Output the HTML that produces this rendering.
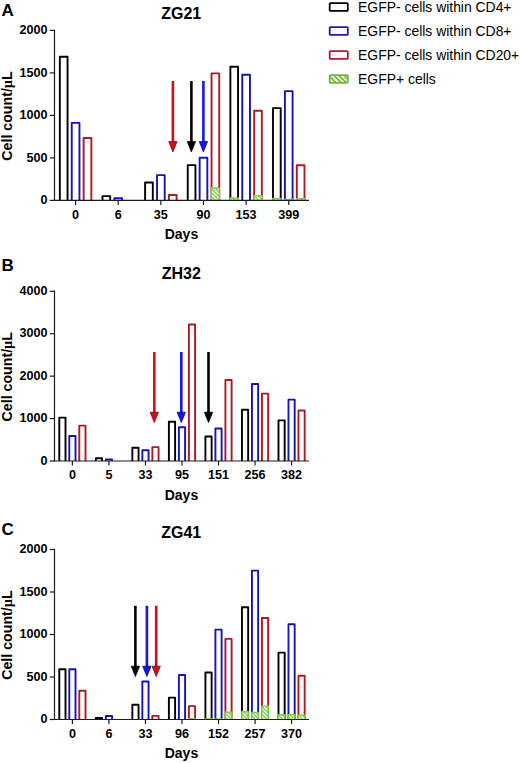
<!DOCTYPE html>
<html><head><meta charset="utf-8"><title>Figure</title>
<style>
html,body{margin:0;padding:0;background:#fff;}
body{width:520px;height:763px;overflow:hidden;}
svg{display:block;}
text{font-family:"Liberation Sans",sans-serif;fill:#000;}
.tk{font-size:12.6px;font-weight:bold;}
.ax{font-size:14px;font-weight:bold;}
.ay{font-size:14.2px;font-weight:bold;}
.mu{font-family:"Liberation Serif",serif;}
.tt{font-size:16px;font-weight:bold;}
.lt{font-size:17px;font-weight:bold;}
.lg{font-size:13.92px;}
</style></head><body>
<svg width="520" height="763" viewBox="0 0 520 763">
<defs>
<pattern id="hatch" patternUnits="userSpaceOnUse" width="3.6" height="3.6" patternTransform="rotate(45)">
<rect width="3.6" height="3.6" fill="#f4fbe8"/>
<rect width="3.6" height="1.7" fill="#78b543"/>
</pattern>
<pattern id="hatchb" patternUnits="userSpaceOnUse" width="2.8" height="2.8" patternTransform="rotate(45)">
<rect width="2.8" height="2.8" fill="#f8fef0"/>
<rect width="2.8" height="1.35" fill="#80cd4c"/>
</pattern>
</defs>
<rect width="520" height="763" fill="#fff"/>
<path d="M59.85 200.4 V56.75 H67.55 V200.4" fill="#fff" stroke="#000000" stroke-width="1.9" stroke-linejoin="round"/>
<path d="M71.75 200.4 V122.88 H79.45 V200.4" fill="#fff" stroke="#1414b8" stroke-width="1.9" stroke-linejoin="round"/>
<path d="M83.65 200.4 V137.93 H91.35 V200.4" fill="#fff" stroke="#ae1a20" stroke-width="1.9" stroke-linejoin="round"/>
<path d="M102.48 200.4 V196.15 H110.18 V200.4" fill="#fff" stroke="#000000" stroke-width="1.9" stroke-linejoin="round"/>
<path d="M114.38 200.4 V198.28 H122.08 V200.4" fill="#fff" stroke="#1414b8" stroke-width="1.9" stroke-linejoin="round"/>
<path d="M145.11 200.4 V182.47 H152.81 V200.4" fill="#fff" stroke="#000000" stroke-width="1.9" stroke-linejoin="round"/>
<path d="M157.01 200.4 V175.16 H164.71 V200.4" fill="#fff" stroke="#1414b8" stroke-width="1.9" stroke-linejoin="round"/>
<path d="M168.91 200.4 V195.05 H176.61 V200.4" fill="#fff" stroke="#ae1a20" stroke-width="1.9" stroke-linejoin="round"/>
<path d="M187.74 200.4 V165.12 H195.44 V200.4" fill="#fff" stroke="#000000" stroke-width="1.9" stroke-linejoin="round"/>
<path d="M199.64 200.4 V157.73 H207.34 V200.4" fill="#fff" stroke="#1414b8" stroke-width="1.9" stroke-linejoin="round"/>
<path d="M211.54 200.4 V73.41 H219.24 V200.4" fill="#fff" stroke="#ae1a20" stroke-width="1.9" stroke-linejoin="round"/>
<path d="M211.39 200.4 V188.08 H219.39 V200.4" fill="url(#hatchb)" stroke="#80cd4c" stroke-width="1.5" stroke-linejoin="round"/>
<path d="M230.37 200.4 V66.78 H238.07 V200.4" fill="#fff" stroke="#000000" stroke-width="1.9" stroke-linejoin="round"/>
<path d="M230.22 200.4 V198.02 H238.22 V200.4" fill="url(#hatchb)" stroke="#80cd4c" stroke-width="1.5" stroke-linejoin="round"/>
<path d="M242.27 200.4 V74.69 H249.97 V200.4" fill="#fff" stroke="#1414b8" stroke-width="1.9" stroke-linejoin="round"/>
<path d="M254.17 200.4 V110.81 H261.87 V200.4" fill="#fff" stroke="#ae1a20" stroke-width="1.9" stroke-linejoin="round"/>
<path d="M254.02 200.4 V195.72 H262.02 V200.4" fill="url(#hatchb)" stroke="#80cd4c" stroke-width="1.5" stroke-linejoin="round"/>
<path d="M273.00 200.4 V108.09 H280.70 V200.4" fill="#fff" stroke="#000000" stroke-width="1.9" stroke-linejoin="round"/>
<path d="M272.85 200.4 V198.53 H280.85 V200.4" fill="url(#hatchb)" stroke="#80cd4c" stroke-width="1.5" stroke-linejoin="round"/>
<path d="M284.90 200.4 V91.09 H292.60 V200.4" fill="#fff" stroke="#1414b8" stroke-width="1.9" stroke-linejoin="round"/>
<path d="M284.75 200.4 V199.38 H292.75 V200.4" fill="url(#hatchb)" stroke="#80cd4c" stroke-width="1.5" stroke-linejoin="round"/>
<path d="M296.80 200.4 V165.30 H304.50 V200.4" fill="#fff" stroke="#ae1a20" stroke-width="1.9" stroke-linejoin="round"/>
<path d="M296.65 200.4 V198.70 H304.65 V200.4" fill="url(#hatchb)" stroke="#80cd4c" stroke-width="1.5" stroke-linejoin="round"/>
<path d="M54.5 29.7 V200.4 M53.8 200.4 H309.0" stroke="#1c1c1c" stroke-width="1.2" fill="none"/>
<path d="M49.7 200.40 H54.5" stroke="#1c1c1c" stroke-width="1.2"/>
<text x="47.6" y="204.10" text-anchor="end" class="tk">0</text>
<path d="M49.7 157.90 H54.5" stroke="#1c1c1c" stroke-width="1.2"/>
<text x="47.6" y="161.60" text-anchor="end" class="tk">500</text>
<path d="M49.7 115.40 H54.5" stroke="#1c1c1c" stroke-width="1.2"/>
<text x="47.6" y="119.10" text-anchor="end" class="tk">1000</text>
<path d="M49.7 72.90 H54.5" stroke="#1c1c1c" stroke-width="1.2"/>
<text x="47.6" y="76.60" text-anchor="end" class="tk">1500</text>
<path d="M49.7 30.40 H54.5" stroke="#1c1c1c" stroke-width="1.2"/>
<text x="47.6" y="34.10" text-anchor="end" class="tk">2000</text>
<path d="M75.60 200.4 V205.0" stroke="#1c1c1c" stroke-width="1.2"/>
<text x="75.60" y="218.50" text-anchor="middle" class="tk">0</text>
<path d="M118.23 200.4 V205.0" stroke="#1c1c1c" stroke-width="1.2"/>
<text x="118.23" y="218.50" text-anchor="middle" class="tk">6</text>
<path d="M160.86 200.4 V205.0" stroke="#1c1c1c" stroke-width="1.2"/>
<text x="160.86" y="218.50" text-anchor="middle" class="tk">35</text>
<path d="M203.49 200.4 V205.0" stroke="#1c1c1c" stroke-width="1.2"/>
<text x="203.49" y="218.50" text-anchor="middle" class="tk">90</text>
<path d="M246.12 200.4 V205.0" stroke="#1c1c1c" stroke-width="1.2"/>
<text x="246.12" y="218.50" text-anchor="middle" class="tk">153</text>
<path d="M288.75 200.4 V205.0" stroke="#1c1c1c" stroke-width="1.2"/>
<text x="288.75" y="218.50" text-anchor="middle" class="tk">399</text>
<path d="M172.9 81 V143" stroke="#d60c14" stroke-width="2.6" fill="none"/>
<path d="M168.70000000000002 141.6 L177.1 141.6 L172.9 152 Z" fill="#d60c14" stroke="#70000c" stroke-width="0.7"/>
<path d="M191.4 81 V143" stroke="#000000" stroke-width="2.6" fill="none"/>
<path d="M187.20000000000002 141.6 L195.6 141.6 L191.4 152 Z" fill="#000000" stroke="#000" stroke-width="0.7"/>
<path d="M203.4 81 V143" stroke="#1616ec" stroke-width="2.6" fill="none"/>
<path d="M199.20000000000002 141.6 L207.6 141.6 L203.4 152 Z" fill="#1616ec" stroke="#00006e" stroke-width="0.7"/>
<text x="181.25" y="18.5" text-anchor="middle" class="tt">ZG21</text>
<text x="181.45" y="239.00" text-anchor="middle" class="ax">Days</text>
<text transform="translate(12.2 116.00) rotate(-90)" text-anchor="middle" class="ay">Cell count/<tspan class="mu">µ</tspan>L</text>
<text x="1.5" y="15.7" class="lt">A</text>
<path d="M59.30 461 V417.60 H65.50 V461" fill="#fff" stroke="#000000" stroke-width="1.9" stroke-linejoin="round"/>
<path d="M69.30 461 V436.05 H75.50 V461" fill="#fff" stroke="#1414b8" stroke-width="1.9" stroke-linejoin="round"/>
<path d="M79.30 461 V425.58 H85.50 V461" fill="#fff" stroke="#ae1a20" stroke-width="1.9" stroke-linejoin="round"/>
<path d="M95.83 461 V458.20 H102.03 V461" fill="#fff" stroke="#000000" stroke-width="1.9" stroke-linejoin="round"/>
<path d="M105.83 461 V459.52 H112.03 V461" fill="#fff" stroke="#1414b8" stroke-width="1.9" stroke-linejoin="round"/>
<path d="M132.36 461 V447.81 H138.56 V461" fill="#fff" stroke="#000000" stroke-width="1.9" stroke-linejoin="round"/>
<path d="M142.36 461 V450.31 H148.56 V461" fill="#fff" stroke="#1414b8" stroke-width="1.9" stroke-linejoin="round"/>
<path d="M152.36 461 V447.13 H158.56 V461" fill="#fff" stroke="#ae1a20" stroke-width="1.9" stroke-linejoin="round"/>
<path d="M168.89 461 V421.76 H175.09 V461" fill="#fff" stroke="#000000" stroke-width="1.9" stroke-linejoin="round"/>
<path d="M178.89 461 V427.27 H185.09 V461" fill="#fff" stroke="#1414b8" stroke-width="1.9" stroke-linejoin="round"/>
<path d="M188.89 461 V324.56 H195.09 V461" fill="#fff" stroke="#ae1a20" stroke-width="1.9" stroke-linejoin="round"/>
<path d="M205.42 461 V436.52 H211.62 V461" fill="#fff" stroke="#000000" stroke-width="1.9" stroke-linejoin="round"/>
<path d="M215.42 461 V428.46 H221.62 V461" fill="#fff" stroke="#1414b8" stroke-width="1.9" stroke-linejoin="round"/>
<path d="M225.42 461 V380.05 H231.62 V461" fill="#fff" stroke="#ae1a20" stroke-width="1.9" stroke-linejoin="round"/>
<path d="M241.95 461 V409.79 H248.15 V461" fill="#fff" stroke="#000000" stroke-width="1.9" stroke-linejoin="round"/>
<path d="M251.95 461 V384.00 H258.15 V461" fill="#fff" stroke="#1414b8" stroke-width="1.9" stroke-linejoin="round"/>
<path d="M261.95 461 V393.67 H268.15 V461" fill="#fff" stroke="#ae1a20" stroke-width="1.9" stroke-linejoin="round"/>
<path d="M278.48 461 V420.40 H284.68 V461" fill="#fff" stroke="#000000" stroke-width="1.9" stroke-linejoin="round"/>
<path d="M288.48 461 V399.65 H294.68 V461" fill="#fff" stroke="#1414b8" stroke-width="1.9" stroke-linejoin="round"/>
<path d="M298.48 461 V410.47 H304.68 V461" fill="#fff" stroke="#ae1a20" stroke-width="1.9" stroke-linejoin="round"/>
<path d="M54.5 290.6 V461 M53.8 461 H309.0" stroke="#1c1c1c" stroke-width="1.2" fill="none"/>
<path d="M49.7 461.00 H54.5" stroke="#1c1c1c" stroke-width="1.2"/>
<text x="47.6" y="464.70" text-anchor="end" class="tk">0</text>
<path d="M49.7 418.57 H54.5" stroke="#1c1c1c" stroke-width="1.2"/>
<text x="47.6" y="422.27" text-anchor="end" class="tk">1000</text>
<path d="M49.7 376.15 H54.5" stroke="#1c1c1c" stroke-width="1.2"/>
<text x="47.6" y="379.85" text-anchor="end" class="tk">2000</text>
<path d="M49.7 333.73 H54.5" stroke="#1c1c1c" stroke-width="1.2"/>
<text x="47.6" y="337.43" text-anchor="end" class="tk">3000</text>
<path d="M49.7 291.30 H54.5" stroke="#1c1c1c" stroke-width="1.2"/>
<text x="47.6" y="295.00" text-anchor="end" class="tk">4000</text>
<path d="M72.40 461 V465.6" stroke="#1c1c1c" stroke-width="1.2"/>
<text x="72.40" y="479.10" text-anchor="middle" class="tk">0</text>
<path d="M108.93 461 V465.6" stroke="#1c1c1c" stroke-width="1.2"/>
<text x="108.93" y="479.10" text-anchor="middle" class="tk">5</text>
<path d="M145.46 461 V465.6" stroke="#1c1c1c" stroke-width="1.2"/>
<text x="145.46" y="479.10" text-anchor="middle" class="tk">33</text>
<path d="M181.99 461 V465.6" stroke="#1c1c1c" stroke-width="1.2"/>
<text x="181.99" y="479.10" text-anchor="middle" class="tk">95</text>
<path d="M218.52 461 V465.6" stroke="#1c1c1c" stroke-width="1.2"/>
<text x="218.52" y="479.10" text-anchor="middle" class="tk">151</text>
<path d="M255.05 461 V465.6" stroke="#1c1c1c" stroke-width="1.2"/>
<text x="255.05" y="479.10" text-anchor="middle" class="tk">256</text>
<path d="M291.58 461 V465.6" stroke="#1c1c1c" stroke-width="1.2"/>
<text x="291.58" y="479.10" text-anchor="middle" class="tk">382</text>
<path d="M154.3 352 V413.6" stroke="#d60c14" stroke-width="2.6" fill="none"/>
<path d="M150.10000000000002 412.20000000000005 L158.5 412.20000000000005 L154.3 422.6 Z" fill="#d60c14" stroke="#70000c" stroke-width="0.7"/>
<path d="M181.3 352 V413.6" stroke="#1616ec" stroke-width="2.6" fill="none"/>
<path d="M177.10000000000002 412.20000000000005 L185.5 412.20000000000005 L181.3 422.6 Z" fill="#1616ec" stroke="#00006e" stroke-width="0.7"/>
<path d="M208.5 352 V413.6" stroke="#000000" stroke-width="2.6" fill="none"/>
<path d="M204.3 412.20000000000005 L212.7 412.20000000000005 L208.5 422.6 Z" fill="#000000" stroke="#000" stroke-width="0.7"/>
<text x="181.25" y="279.4" text-anchor="middle" class="tt">ZH32</text>
<text x="181.45" y="499.60" text-anchor="middle" class="ax">Days</text>
<text transform="translate(12.2 376.75) rotate(-90)" text-anchor="middle" class="ay">Cell count/<tspan class="mu">µ</tspan>L</text>
<text x="1.5" y="270.9" class="lt">B</text>
<path d="M59.30 719.5 V669.26 H65.50 V719.5" fill="#fff" stroke="#000000" stroke-width="1.9" stroke-linejoin="round"/>
<path d="M69.30 719.5 V669.26 H75.50 V719.5" fill="#fff" stroke="#1414b8" stroke-width="1.9" stroke-linejoin="round"/>
<path d="M79.30 719.5 V690.77 H85.50 V719.5" fill="#fff" stroke="#ae1a20" stroke-width="1.9" stroke-linejoin="round"/>
<path d="M95.83 719.5 V717.97 H102.03 V719.5" fill="#fff" stroke="#000000" stroke-width="1.9" stroke-linejoin="round"/>
<path d="M105.83 719.5 V716.01 H112.03 V719.5" fill="#fff" stroke="#1414b8" stroke-width="1.9" stroke-linejoin="round"/>
<path d="M132.36 719.5 V704.79 H138.56 V719.5" fill="#fff" stroke="#000000" stroke-width="1.9" stroke-linejoin="round"/>
<path d="M142.36 719.5 V681.50 H148.56 V719.5" fill="#fff" stroke="#1414b8" stroke-width="1.9" stroke-linejoin="round"/>
<path d="M152.36 719.5 V715.85 H158.56 V719.5" fill="#fff" stroke="#ae1a20" stroke-width="1.9" stroke-linejoin="round"/>
<path d="M168.89 719.5 V697.65 H175.09 V719.5" fill="#fff" stroke="#000000" stroke-width="1.9" stroke-linejoin="round"/>
<path d="M178.89 719.5 V675.04 H185.09 V719.5" fill="#fff" stroke="#1414b8" stroke-width="1.9" stroke-linejoin="round"/>
<path d="M188.89 719.5 V706.15 H195.09 V719.5" fill="#fff" stroke="#ae1a20" stroke-width="1.9" stroke-linejoin="round"/>
<path d="M188.74 719.5 V718.65 H195.24 V719.5" fill="url(#hatchb)" stroke="#80cd4c" stroke-width="1.5" stroke-linejoin="round"/>
<path d="M205.42 719.5 V672.50 H211.62 V719.5" fill="#fff" stroke="#000000" stroke-width="1.9" stroke-linejoin="round"/>
<path d="M205.27 719.5 V718.65 H211.77 V719.5" fill="url(#hatchb)" stroke="#80cd4c" stroke-width="1.5" stroke-linejoin="round"/>
<path d="M215.42 719.5 V629.65 H221.62 V719.5" fill="#fff" stroke="#1414b8" stroke-width="1.9" stroke-linejoin="round"/>
<path d="M215.27 719.5 V718.99 H221.77 V719.5" fill="url(#hatchb)" stroke="#80cd4c" stroke-width="1.5" stroke-linejoin="round"/>
<path d="M225.42 719.5 V638.92 H231.62 V719.5" fill="#fff" stroke="#ae1a20" stroke-width="1.9" stroke-linejoin="round"/>
<path d="M225.27 719.5 V712.27 H231.77 V719.5" fill="url(#hatchb)" stroke="#80cd4c" stroke-width="1.5" stroke-linejoin="round"/>
<path d="M241.95 719.5 V607.30 H248.15 V719.5" fill="#fff" stroke="#000000" stroke-width="1.9" stroke-linejoin="round"/>
<path d="M241.80 719.5 V711.85 H248.30 V719.5" fill="url(#hatchb)" stroke="#80cd4c" stroke-width="1.5" stroke-linejoin="round"/>
<path d="M251.95 719.5 V570.66 H258.15 V719.5" fill="#fff" stroke="#1414b8" stroke-width="1.9" stroke-linejoin="round"/>
<path d="M251.80 719.5 V712.62 H258.30 V719.5" fill="url(#hatchb)" stroke="#80cd4c" stroke-width="1.5" stroke-linejoin="round"/>
<path d="M261.95 719.5 V618.01 H268.15 V719.5" fill="#fff" stroke="#ae1a20" stroke-width="1.9" stroke-linejoin="round"/>
<path d="M261.80 719.5 V706.33 H268.30 V719.5" fill="url(#hatchb)" stroke="#80cd4c" stroke-width="1.5" stroke-linejoin="round"/>
<path d="M278.48 719.5 V652.61 H284.68 V719.5" fill="#fff" stroke="#000000" stroke-width="1.9" stroke-linejoin="round"/>
<path d="M278.33 719.5 V714.83 H284.83 V719.5" fill="url(#hatchb)" stroke="#80cd4c" stroke-width="1.5" stroke-linejoin="round"/>
<path d="M288.48 719.5 V624.22 H294.68 V719.5" fill="#fff" stroke="#1414b8" stroke-width="1.9" stroke-linejoin="round"/>
<path d="M288.33 719.5 V714.83 H294.83 V719.5" fill="url(#hatchb)" stroke="#80cd4c" stroke-width="1.5" stroke-linejoin="round"/>
<path d="M298.48 719.5 V675.73 H304.68 V719.5" fill="#fff" stroke="#ae1a20" stroke-width="1.9" stroke-linejoin="round"/>
<path d="M298.33 719.5 V715.25 H304.83 V719.5" fill="url(#hatchb)" stroke="#80cd4c" stroke-width="1.5" stroke-linejoin="round"/>
<path d="M54.5 548.8 V719.5 M53.8 719.5 H309.0" stroke="#1c1c1c" stroke-width="1.2" fill="none"/>
<path d="M49.7 719.50 H54.5" stroke="#1c1c1c" stroke-width="1.2"/>
<text x="47.6" y="723.20" text-anchor="end" class="tk">0</text>
<path d="M49.7 677.00 H54.5" stroke="#1c1c1c" stroke-width="1.2"/>
<text x="47.6" y="680.70" text-anchor="end" class="tk">500</text>
<path d="M49.7 634.50 H54.5" stroke="#1c1c1c" stroke-width="1.2"/>
<text x="47.6" y="638.20" text-anchor="end" class="tk">1000</text>
<path d="M49.7 592.00 H54.5" stroke="#1c1c1c" stroke-width="1.2"/>
<text x="47.6" y="595.70" text-anchor="end" class="tk">1500</text>
<path d="M49.7 549.50 H54.5" stroke="#1c1c1c" stroke-width="1.2"/>
<text x="47.6" y="553.20" text-anchor="end" class="tk">2000</text>
<path d="M72.40 719.5 V724.1" stroke="#1c1c1c" stroke-width="1.2"/>
<text x="72.40" y="737.60" text-anchor="middle" class="tk">0</text>
<path d="M108.93 719.5 V724.1" stroke="#1c1c1c" stroke-width="1.2"/>
<text x="108.93" y="737.60" text-anchor="middle" class="tk">6</text>
<path d="M145.46 719.5 V724.1" stroke="#1c1c1c" stroke-width="1.2"/>
<text x="145.46" y="737.60" text-anchor="middle" class="tk">33</text>
<path d="M181.99 719.5 V724.1" stroke="#1c1c1c" stroke-width="1.2"/>
<text x="181.99" y="737.60" text-anchor="middle" class="tk">96</text>
<path d="M218.52 719.5 V724.1" stroke="#1c1c1c" stroke-width="1.2"/>
<text x="218.52" y="737.60" text-anchor="middle" class="tk">152</text>
<path d="M255.05 719.5 V724.1" stroke="#1c1c1c" stroke-width="1.2"/>
<text x="255.05" y="737.60" text-anchor="middle" class="tk">257</text>
<path d="M291.58 719.5 V724.1" stroke="#1c1c1c" stroke-width="1.2"/>
<text x="291.58" y="737.60" text-anchor="middle" class="tk">370</text>
<path d="M135.4 605.8 V667.6" stroke="#000000" stroke-width="2.6" fill="none"/>
<path d="M131.20000000000002 666.2 L139.6 666.2 L135.4 676.6 Z" fill="#000000" stroke="#000" stroke-width="0.7"/>
<path d="M146.9 605.8 V667.6" stroke="#1616ec" stroke-width="2.6" fill="none"/>
<path d="M142.70000000000002 666.2 L151.1 666.2 L146.9 676.6 Z" fill="#1616ec" stroke="#00006e" stroke-width="0.7"/>
<path d="M156.2 605.8 V667.6" stroke="#d60c14" stroke-width="2.6" fill="none"/>
<path d="M152.0 666.2 L160.39999999999998 666.2 L156.2 676.6 Z" fill="#d60c14" stroke="#70000c" stroke-width="0.7"/>
<text x="181.25" y="537.8" text-anchor="middle" class="tt">ZG41</text>
<text x="181.45" y="758.10" text-anchor="middle" class="ax">Days</text>
<text transform="translate(12.2 635.10) rotate(-90)" text-anchor="middle" class="ay">Cell count/<tspan class="mu">µ</tspan>L</text>
<text x="1.5" y="535.4" class="lt">C</text>
<rect x="329.7" y="3.05" width="18.1" height="7.9" fill="#fff" stroke="#000000" stroke-width="1.8" rx="0.8"/>
<text x="358.1" y="11.80" class="lg">EGFP- cells within CD4+</text>
<rect x="329.7" y="27.05" width="18.1" height="7.9" fill="#fff" stroke="#1818c4" stroke-width="1.8" rx="0.8"/>
<text x="358.1" y="35.80" class="lg">EGFP- cells within CD8+</text>
<rect x="329.7" y="51.05" width="18.1" height="7.9" fill="#fff" stroke="#c0142c" stroke-width="1.8" rx="0.8"/>
<text x="358.1" y="59.80" class="lg">EGFP- cells within CD20+</text>
<rect x="329.7" y="75.05" width="18.1" height="7.9" fill="url(#hatch)" stroke="#78b543" stroke-width="1.8" rx="0.8"/>
<text x="358.1" y="83.80" class="lg">EGFP+ cells</text>
</svg>
</body></html>
